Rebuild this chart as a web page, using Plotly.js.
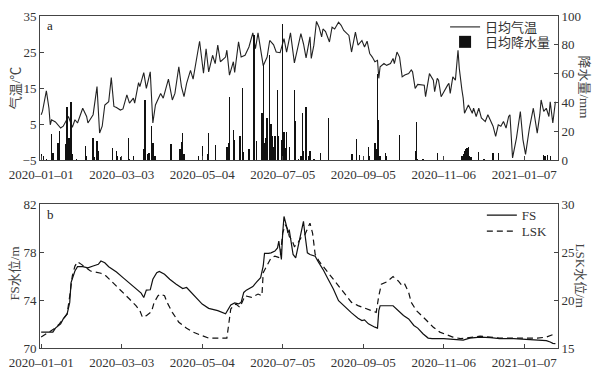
<!DOCTYPE html>
<html><head><meta charset="utf-8">
<script src="https://cdn.plot.ly/plotly-3.0.1.min.js"></script>
<style>html,body{margin:0;padding:0;background:#fff}#chart{width:598px;height:369px}</style>
</head><body><div id="chart"></div>
<script>
// Days counted from 2020-01-01
const dayT = [0,1,4,6,7,8,11,13,15,17,20,21,24,26,28,32,35,36,40,43,45,47,49,52,54,56,58,61,63,66,68,71,72,75,76,79,81,84,86,88,92,94,98,101,103,106,108,110,112,115,117,120,122,125,127,129,132,134,136,138,142,143,145,148,149,152,154,157,160,163,165,167,171,174,176,179,181,184,187,189,192,195,200,202,204,207,208,210,212,214,216,217,219,222,224,226,229,231,233,237,239,242,244,247,249,251,253,255,257,259,260,261,264,266,269,271,272,274,276,278,280,283,285,286,288,290,293,295,296,298,299,302,303,305,306,308,310,311,313,314,315,317,319,321,322,324,325,326,329,332,333,335,337,339,342,344,346,348,350,352,354,356,358,360,361,363,366,369,371,373,376,379,382,384,385,387,389,391,392,394,396];
const tempC = [7.6,8.5,14.2,9.4,4.8,6.2,5.6,4.6,3.9,4.4,6.8,7.1,4.1,6.2,5.3,9.4,7.1,5.3,7.6,15.4,2.5,4.4,10.3,11.2,17.9,9.9,9.6,8.9,9.2,13.1,10.8,12.2,10.8,16.5,15.4,19.3,14.9,19.5,5.3,10.3,13.5,12.2,17.5,11.7,13.5,20.9,15.4,12.6,16.3,19.9,17.5,24.6,28.0,19.1,25.9,19.5,24.1,21.8,26.9,22.3,23.6,25.5,18.6,22.3,19.3,27.8,23.6,24.1,26.4,30.3,25.9,30.3,21.2,23.6,28.2,27.0,25.0,24.8,28.7,25.0,30.3,22.0,30.1,27.3,23.4,29.2,23.2,26.9,33.5,31.9,29.2,31.4,30.7,27.8,31.9,31.4,33.3,32.4,31.0,29.6,25.0,30.5,26.9,28.2,26.4,28.0,24.6,23.6,22.3,22.7,17.7,20.9,21.8,21.3,21.8,23.2,21.8,25.0,23.6,18.1,18.6,19.0,20.0,19.5,14.9,16.0,15.8,15.8,12.6,17.7,19.0,17.2,14.0,17.7,17.2,12.6,14.0,14.5,15.8,16.3,13.5,18.1,17.2,25.5,20.4,14.5,12.2,8.0,10.3,8.0,9.4,7.1,9.4,6.7,5.7,7.6,6.2,4.4,1.6,4.8,4.4,5.7,3.9,7.1,7.6,-4.4,1.1,8.5,0.7,-3.4,3.9,9.4,2.5,7.6,11.7,8.5,9.4,7.1,11.2,5.3,11.2];
const dayP = [0,2,4,8,9,13,14,19,20,21,22,23,24,27,34,35,40,41,43,44,55,58,59,61,67,68,71,79,80,82,83,85,86,87,88,100,107,108,109,110,121,124,128,129,134,143,144,145,148,149,153,155,156,160,164,166,170,171,172,173,174,176,177,178,179,180,182,183,185,186,187,188,189,191,195,196,198,200,201,202,204,206,207,210,215,221,239,240,243,245,248,252,253,257,258,259,260,261,265,266,276,288,289,290,294,305,310,324,325,326,327,328,329,330,331,337,341,348,352,387,388,390,392];
const precip = [4,2.5,1,18.4,5,12,20,11,37,15,15.6,40,4,0.7,10,3,15,2,13,6,8.5,6.4,3,2,15,1,2.5,7.6,41.6,4,5,24,12,3,2.5,11.5,7.6,12.6,19,4,2.5,10,4,18.6,10.3,9.4,12,44,21,13.8,16.8,50,5.7,7.6,87,13.3,33,66,12,15.6,29.4,73,25,16.8,9.4,16.8,48.5,16.8,14,94.5,19.5,8.7,19.5,9.4,48.5,27,1,2.5,33,6.4,37,3,6.4,1,5,29.4,4,4,14.5,3.4,3,9.4,3,12,7.6,60,28,3,5,2.5,17.2,6.4,26.7,1,1,5,3,2.5,4,6.4,7.6,8.7,9.4,3,2,5.7,0.7,5,5,3.4,3,3.7,2.5];
const dayFS = [0,9,11,15,17,19,20,22,23,26,28,32,36,40,44,46,49,52,58,63,68,73,77,79,81,84,86,89,91,95,99,104,109,112,114,119,124,129,136,142,144,146,149,152,154,156,158,160,163,166,169,171,172,175,177,180,182,183,184,185,186,187,189,190,191,193,194,196,198,200,202,203,205,207,211,213,217,221,225,229,234,239,244,247,249,252,257,259,260,261,271,275,279,283,287,290,294,298,301,310,320,325,330,338,346,353,364,371,382,389,392,394,396];
const fsLevel = [71.32,71.32,71.66,72.02,72.43,72.71,72.85,73.81,75.46,76.43,76.79,76.79,76.7,76.85,76.99,77.26,77.12,76.79,76.35,75.88,75.41,74.97,74.58,74.22,74.83,74.86,75.74,76.29,76.4,76.16,75.74,75.33,74.97,75.05,74.83,74.22,73.67,73.31,73.12,72.85,73.26,73.59,73.76,73.68,73.81,74.64,74.83,74.97,75.13,75.52,75.88,76.85,77.9,77.9,77.95,78.09,78.36,78.92,78.23,77.4,79.6,80.98,80.16,79.6,79.88,78.64,77.81,77.53,78.5,79.47,80.57,79.6,77.95,77.81,77.67,77.26,76.57,75.74,74.92,73.95,73.4,72.93,72.48,72.29,72.35,72.02,71.74,71.66,73.12,73.53,73.53,73.12,72.71,72.43,71.88,71.66,71.19,70.83,70.78,70.78,70.72,70.66,70.83,70.91,70.86,70.78,70.78,70.72,70.64,70.61,70.5,70.39,70.36];
const dayLSK = [0,4,6,10,14,18,20,22,24,26,28,31,35,38,42,46,50,54,58,63,68,73,76,78,81,85,87,90,92,95,97,101,106,112,117,122,129,143,144,146,148,150,153,157,162,167,170,171,173,177,180,184,186,188,190,191,193,195,197,200,203,205,207,209,211,214,218,223,229,234,239,244,249,254,258,260,262,266,271,275,278,280,283,285,289,293,297,302,307,312,317,323,328,333,338,346,353,364,371,382,389,393,396];
const lskLevel = [16.14,16.49,16.59,17.0,17.52,18.21,18.56,20.45,22.52,23.55,24.0,23.73,23.38,23.04,22.93,22.8,22.52,22.0,21.49,20.8,20.11,19.42,18.9,18.21,18.38,18.8,19.76,20.45,20.63,20.45,19.76,18.72,17.69,17.07,16.66,16.39,16.03,16.03,17.0,19.07,19.42,19.59,19.24,20.45,20.28,20.63,20.45,22.86,23.38,24.41,24.59,24.41,27.0,27.87,27.35,26.66,26.3,25.6,25.8,26.5,26.8,27.5,28.03,27.0,24.77,24.07,23.38,22.52,21.56,20.63,19.76,19.42,19.14,18.9,18.72,20.45,21.66,21.9,22.45,22.0,21.49,21.66,20.8,19.76,18.9,18.38,17.87,17.17,16.66,16.39,16.14,15.97,16.03,16.14,16.24,16.14,16.03,16.03,16.03,16.03,16.14,16.31,16.49];

const seriesNames = ['日均气温','日均降水量','FS','LSK'];
const axisTitles = ['气温/℃','降水量/mm','FS水位/m','LSK水位/m'];
const panelLabels = ['a','b'];

const base = Date.UTC(2020,0,1);
const DAY = 86400000;
const toDate = d => new Date(base + d*DAY).toISOString().slice(0,10);

const FONT = '"Liberation Serif", "Times New Roman", "Noto Sans CJK SC", serif';
const INK = '#222';
const AX = '#444';

const traces = [
  {type:'scatter', mode:'lines', name:seriesNames[0], x:dayT.map(toDate), y:tempC,
   xaxis:'x', yaxis:'y', line:{color:INK, width:1.1}, legend:'legend'},
  {type:'bar', name:seriesNames[1], x:dayP.map(toDate), y:precip, width:DAY,
   xaxis:'x', yaxis:'y2', marker:{color:'#111', line:{width:0}}, legend:'legend2'},
  {type:'scatter', mode:'lines', name:seriesNames[2], x:dayFS.map(toDate), y:fsLevel,
   xaxis:'x2', yaxis:'y3', line:{color:'#111', width:1.2}, legend:'legend3'},
  {type:'scatter', mode:'lines', name:seriesNames[3], x:dayLSK.map(toDate), y:lskLevel,
   xaxis:'x2', yaxis:'y4', line:{color:'#111', width:1.2, dash:'6px,4px'}, legend:'legend4'}
];

const common = {showline:true, linecolor:AX, linewidth:1, ticks:'inside', ticklen:4, tickcolor:AX,
  showgrid:false, zeroline:false, tickfont:{family:FONT, size:13, color:'#333'}};
const xr = [new Date(base - 0.9*DAY).toISOString(), toDate(398)];
const xcommon = Object.assign({}, common, {type:'date', range:xr, tick0:'2020-01-01', dtick:62*DAY,
  tickformat:'%Y–%m–%d', mirror:true, ticklabelstandoff:2});

const legStyle = (x, y) => ({x:x, y:y, xanchor:'left', yanchor:'middle', bgcolor:'rgba(0,0,0,0)', borderwidth:0,
  font:{family:FONT, size:13, color:'#333'}, itemwidth:30, tracegroupgap:0});
const ann = (text, x, y, angle, color) => ({text:text, xref:'paper', yref:'paper', x:x, y:y, textangle:angle,
  xanchor:'center', yanchor:'middle', showarrow:false, font:{family:FONT, size:13, color:color}});

const layout = {
  width:598, height:369, margin:{l:40, r:40, t:13, b:21},
  paper_bgcolor:'#fff', plot_bgcolor:'#fff', showlegend:true, bargap:0,
  font:{family:FONT, size:13, color:'#333'},
  xaxis: Object.assign({}, xcommon, {anchor:'y', domain:[0,1]}),
  yaxis: Object.assign({}, common, {anchor:'x', domain:[0.566,1], range:[-5,35], tick0:-5, dtick:10, side:'left'}),
  yaxis2: Object.assign({}, common, {anchor:'x', overlaying:'y', side:'right', range:[0,100], tick0:0, dtick:20}),
  xaxis2: Object.assign({}, xcommon, {anchor:'y3', domain:[0,1]}),
  yaxis3: Object.assign({}, common, {anchor:'x2', domain:[0,0.4328], range:[70,82], tick0:70, dtick:4, side:'left'}),
  yaxis4: Object.assign({}, common, {anchor:'x2', overlaying:'y3', side:'right', range:[15,30], tick0:15, dtick:5}),
  legend: legStyle(0.782, 0.967),
  legend2: legStyle(0.782, 0.922),
  legend3: legStyle(0.853, 0.400),
  legend4: legStyle(0.853, 0.352),
  annotations: [
    ann(axisTitles[0], -0.0483, 0.785, -90, '#444'),
    ann(axisTitles[1], 1.052, 0.785, 90, '#444'),
    ann(axisTitles[2], -0.0483, 0.224, -90, '#444'),
    ann(axisTitles[3], 1.0425, 0.218, 90, '#444'),
    ann(panelLabels[0], 0.0193, 0.970, 0, '#222'),
    ann(panelLabels[1], 0.0206, 0.403, 0, '#222')
  ]
};

Plotly.newPlot('chart', traces, layout, {displayModeBar:false, staticPlot:true});
</script></body></html>
